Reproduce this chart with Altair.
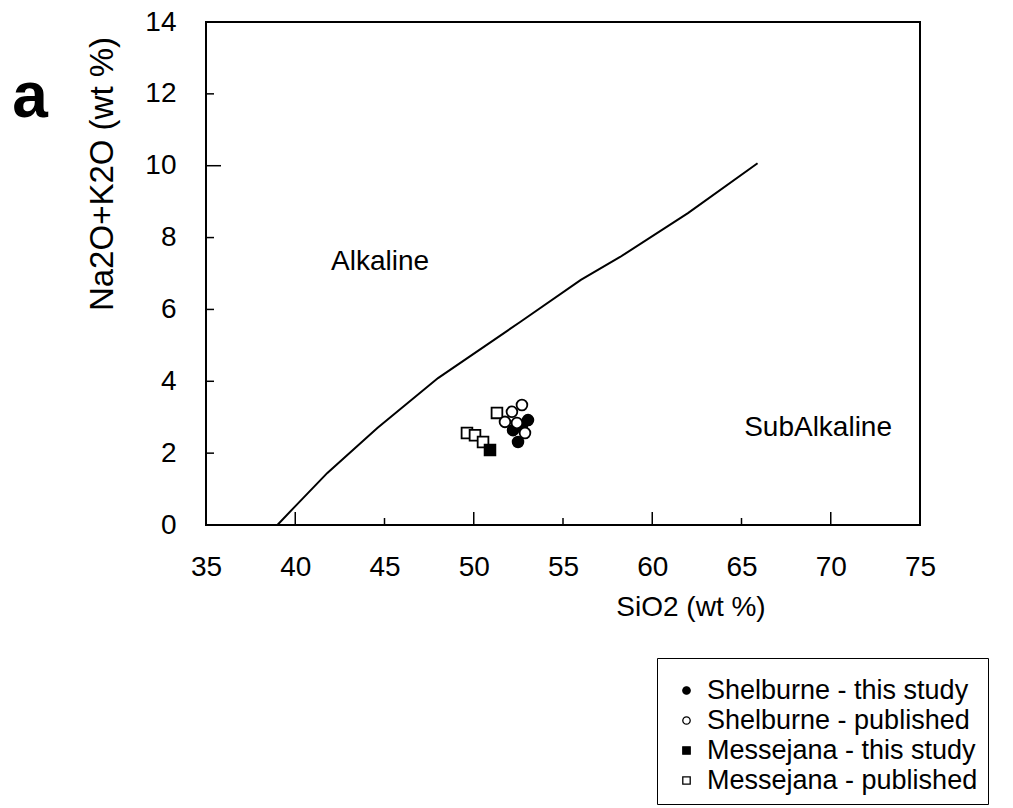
import altair as alt
import pandas as pd

# Alkaline / sub-alkaline dividing line (SiO2, Na2O+K2O)
alk_x = [39.0, 39.9, 41.8, 44.6, 48.0, 52.6, 56.0, 58.2, 62.0, 65.9]
alk_y = [0.0, 0.47, 1.45, 2.70, 4.09, 5.65, 6.82, 7.46, 8.68, 10.07]

# sample groups
cats = ["Shelburne - this study", "Shelburne - published",
        "Messejana - this study", "Messejana - published"]
fills = ["black", "white", "black", "white"]
shapes = ["circle", "circle", "square", "square"]

mess_pub_x = [49.62, 50.07, 50.52, 51.30]
mess_pub_y = [2.56, 2.50, 2.31, 3.12]
mess_this_x = [50.91]
mess_this_y = [2.09]
shel_this_x = [53.04, 52.20, 52.48, 52.70]
shel_this_y = [2.92, 2.64, 2.31, 2.73]
shel_pub_x = [52.70, 52.14, 51.75, 52.87, 52.42]
shel_pub_y = [3.34, 3.15, 2.87, 2.56, 2.84]

# axis ticks
x_labels = [35, 40, 45, 50, 55, 60, 65, 70, 75]
y_labels = [0, 2, 4, 6, 8, 10, 12, 14]
x_major = [40, 50, 60, 70]
x_minor = [45, 55, 65]
y_short = [2, 4, 6, 8, 12]
y_long = [10]

# annotations
ann_text = ["Alkaline", "SubAlkaline"]
ann_x = [44.75, 69.29]
ann_y = [7.32, 2.70]

FONT = "Liberation Sans"
W, H = 714, 503

line_df = pd.DataFrame({"SiO2": alk_x, "Alk": alk_y})
rows = []
for c, xs, ys in [(cats[3], mess_pub_x, mess_pub_y),
                  (cats[2], mess_this_x, mess_this_y),
                  (cats[0], shel_this_x, shel_this_y),
                  (cats[1], shel_pub_x, shel_pub_y)]:
    for a, b in zip(xs, ys):
        rows.append({"SiO2": a, "Alk": b, "group": c})
pts_df = pd.DataFrame(rows)

xscale = alt.Scale(domain=[35, 75], nice=False, zero=False)
yscale = alt.Scale(domain=[0, 14], nice=False, zero=True)

xaxis = alt.Axis(values=x_labels, title=None, ticks=False, tickSize=0, domain=False,
                 grid=False, labelFontSize=28, labelFont=FONT, labelColor="black",
                 labelPadding=28, labelFlush=False, labelOverlap=False)
yaxis = alt.Axis(values=y_labels, title=None, ticks=False, tickSize=0, domain=False,
                 grid=False, labelFontSize=28, labelFont=FONT, labelColor="black",
                 labelPadding=30, labelFlush=False, labelOverlap=False)

line = alt.Chart(line_df).mark_line(color="black", strokeWidth=2).encode(
    x=alt.X("SiO2:Q", scale=xscale, axis=xaxis),
    y=alt.Y("Alk:Q", scale=yscale, axis=yaxis),
)

def xticks(vals, length):
    return alt.Chart(pd.DataFrame({"SiO2": vals})).mark_rule(color="black", strokeWidth=1.5).encode(
        x=alt.X("SiO2:Q", scale=xscale, axis=xaxis),
        y=alt.value(H), y2=alt.value(H - length))

def yticks(vals, length):
    return alt.Chart(pd.DataFrame({"Alk": vals})).mark_rule(color="black", strokeWidth=1.5).encode(
        y=alt.Y("Alk:Q", scale=yscale, axis=yaxis),
        x=alt.value(0), x2=alt.value(length))

leg = alt.Legend(title=" ", titleFontSize=6, titlePadding=3,
                 orient="none", legendX=451, legendY=636,
                 strokeColor="black", padding=10, fillColor="white",
                 labelFontSize=27, labelFont=FONT, labelColor="black", labelLimit=500,
                 symbolSize=55, symbolStrokeWidth=1.3,
                 labelOffset=7, symbolOffset=6, rowPadding=2)

points = alt.Chart(pts_df).mark_point(filled=True, stroke="black", strokeWidth=1.8,
                                       size=115, opacity=1).encode(
    x=alt.X("SiO2:Q", scale=xscale, axis=xaxis),
    y=alt.Y("Alk:Q", scale=yscale, axis=yaxis),
    fill=alt.Fill("group:N", scale=alt.Scale(domain=cats, range=fills), legend=leg),
    shape=alt.Shape("group:N", scale=alt.Scale(domain=cats, range=shapes), legend=leg),
    stroke=alt.value("black"),
)

ann = alt.Chart(pd.DataFrame({"t": ann_text, "SiO2": ann_x, "Alk": ann_y})).mark_text(
    font=FONT, fontSize=28, color="black", align="center", baseline="middle").encode(
    x=alt.X("SiO2:Q", scale=xscale, axis=xaxis),
    y=alt.Y("Alk:Q", scale=yscale, axis=yaxis),
    text="t:N")

def label(txt, x, y, size, angle=0, weight="normal"):
    return alt.Chart(pd.DataFrame({"t": [txt]})).mark_text(
        font=FONT, fontSize=size, color="black", align="center", baseline="middle",
        angle=angle, fontWeight=weight).encode(
        x=alt.value(x), y=alt.value(y), text="t:N")

xtitle = label("SiO2  (wt %)", 485, 586, 28)
ytitle = label("Na2O+K2O  (wt %)", -103, 152, 33, angle=270)
panel = label("a", -176, 76, 64, weight="bold")

chart = alt.layer(
    line, xticks(x_major, 13), xticks(x_minor, 7), yticks(y_short, 8), yticks(y_long, 15),
    points, ann, xtitle, ytitle, panel
).properties(
    width=W, height=H,
    autosize=alt.AutoSizeParams(type="none"),
    padding={"left": 206, "top": 22, "right": 93, "bottom": 283},
    background="white",
).configure_view(stroke="black", strokeWidth=2)

chart.save("out.html", embed_options={"renderer": "svg", "actions": False})
